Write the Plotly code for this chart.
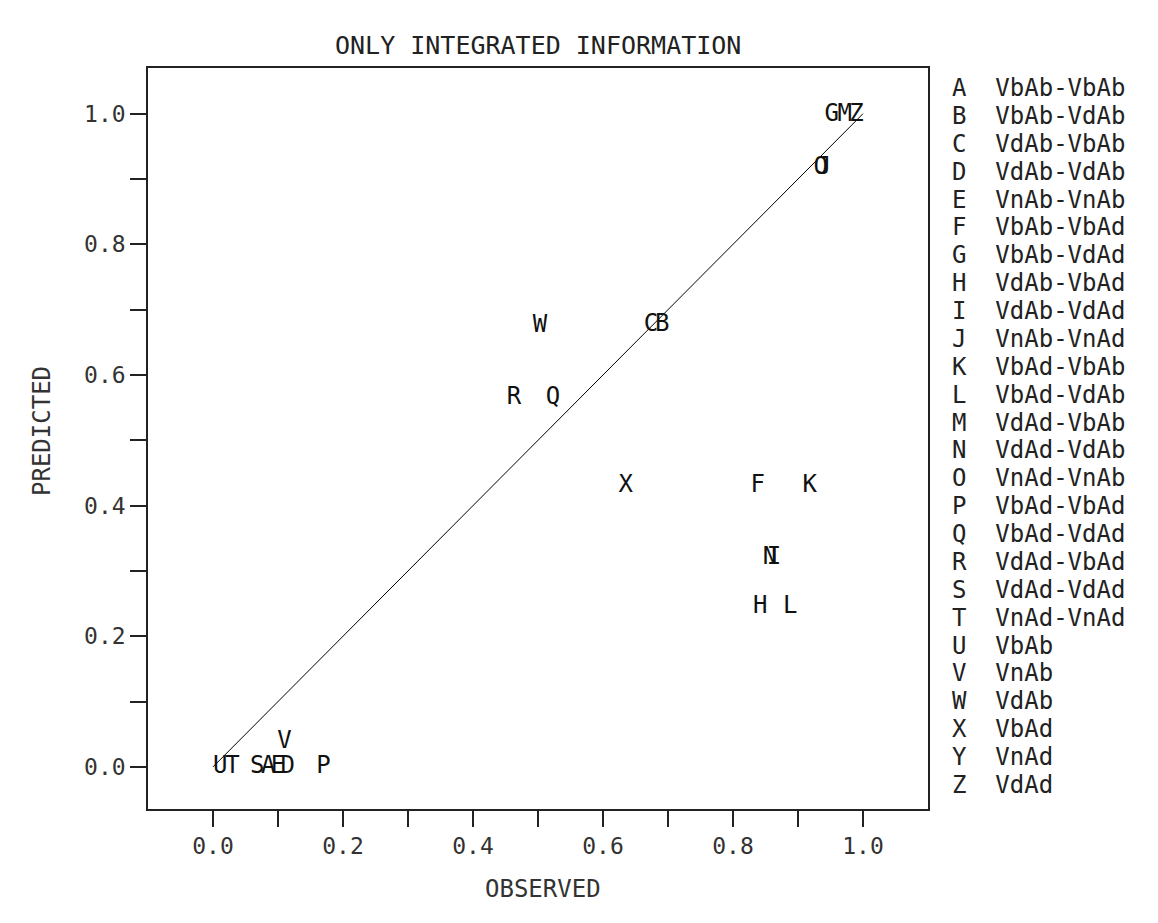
import plotly.graph_objects as go

letters = list("ABCDEFGHIJKLMNOPQRSTUVWXYZ")
descriptions = [
    "VbAb-VbAb", "VbAb-VdAb", "VdAb-VbAb", "VdAb-VdAb", "VnAb-VnAb",
    "VbAb-VbAd", "VbAb-VdAd", "VdAb-VbAd", "VdAb-VdAd", "VnAb-VnAd",
    "VbAd-VbAb", "VbAd-VdAb", "VdAd-VbAb", "VdAd-VdAb", "VnAd-VnAb",
    "VbAd-VbAd", "VbAd-VdAd", "VdAd-VbAd", "VdAd-VdAd", "VnAd-VnAd",
    "VbAb", "VnAb", "VdAb", "VbAd", "VnAd", "VdAd",
]
observed = [0.085, 0.691, 0.674, 0.115, 0.100, 0.838, 0.952, 0.842, 0.863, 0.940,
            0.918, 0.888, 0.972, 0.857, 0.935, 0.170, 0.523, 0.463, 0.068, 0.030,
            0.011, 0.110, 0.503, 0.635, None, 0.990]
predicted = [0.0, 0.677, 0.677, 0.0, 0.0, 0.430, 0.998, 0.245, 0.320, 0.917,
             0.430, 0.245, 0.998, 0.320, 0.917, 0.0, 0.564, 0.564, 0.0, 0.0,
             0.0, 0.038, 0.675, 0.430, None, 0.998]
diag = [0.0, 1.0]
tick_vals = [0.0, 0.1, 0.2, 0.3, 0.4, 0.5, 0.6, 0.7, 0.8, 0.9, 1.0]
tick_text = ["0.0", "", "0.2", "", "0.4", "", "0.6", "", "0.8", "", "1.0"]

FONT = "DejaVu Sans Mono"
W, H = 1158, 923
OX, OY = 8, 7  # page offset of the rendered figure
L, R, T, B = 148 - OX, 928 - OX, 67 - OY, 808 - OY

def px2paper(xp, yp):
    return (xp - OX - L) / (R - L), (B - (yp - OY)) / (B - T)

fig = go.Figure()
fig.add_trace(go.Scatter(x=diag, y=diag, mode="lines",
                         line=dict(color="black", width=1), hoverinfo="skip"))
px = [o for o in observed if o is not None]
py = [p for o, p in zip(observed, predicted) if o is not None]
pt = [l for o, l in zip(observed, letters) if o is not None]
fig.add_trace(go.Scatter(x=px, y=py, mode="text", text=pt,
                         textposition="middle center",
                         textfont=dict(family=FONT, size=24, color="#111")))

axis_common = dict(showline=True, linecolor="#222", linewidth=1.5, mirror=True,
                   ticks="outside", ticklen=16, tickwidth=1.5, tickcolor="#222",
                   showgrid=False, zeroline=False, tickvals=tick_vals,
                   ticktext=tick_text,
                   tickfont=dict(family=FONT, size=23, color="#333"))
fig.update_xaxes(range=[-0.1, 1.1], **axis_common)
fig.update_yaxes(range=[-0.0645, 1.07], **axis_common)

ann = []
for i, (l, d) in enumerate(zip(letters, descriptions)):
    ax, ay = px2paper(950, 87 + i * 27.88)
    ann.append(dict(x=ax, y=ay, xref="paper", yref="paper",
                    text=l + "  " + d, showarrow=False, xanchor="left",
                    yanchor="middle",
                    font=dict(family=FONT, size=24, color="#222")))
ax, ay = px2paper(543, 888)
ann.append(dict(x=ax, y=ay, xref="paper", yref="paper",
                text="OBSERVED", showarrow=False, xanchor="center", yanchor="middle",
                font=dict(family=FONT, size=24, color="#333")))
ax, ay = px2paper(42, 430)
ann.append(dict(x=ax, y=ay, xref="paper", yref="paper",
                text="PREDICTED", showarrow=False, textangle=-90,
                xanchor="center", yanchor="middle",
                font=dict(family=FONT, size=24, color="#333")))
ax, ay = px2paper(538, 44)
ann.append(dict(x=ax, y=ay, xref="paper", yref="paper",
                text="ONLY INTEGRATED INFORMATION", showarrow=False,
                xanchor="center", yanchor="middle",
                font=dict(family=FONT, size=25, color="#222")))

fig.update_layout(width=W, height=H, margin=dict(l=L, r=W - R, t=T, b=H - B),
                  paper_bgcolor="white", plot_bgcolor="white", showlegend=False,
                  annotations=ann)
fig.write_html("out.html")
